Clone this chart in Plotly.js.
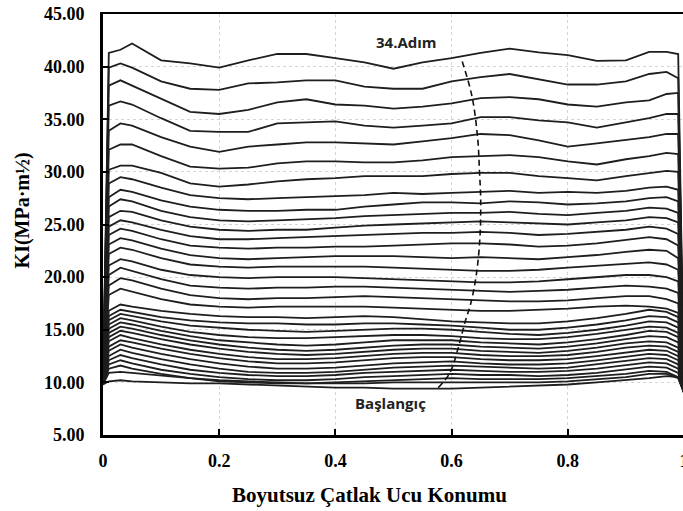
<!DOCTYPE html>
<html>
<head>
<meta charset="utf-8">
<script src="https://cdn.plot.ly/plotly-3.0.1.min.js"></script>
<style>
html,body{margin:0;padding:0;overflow:hidden;background:#fff;}
#chart{width:686px;height:511px;}
</style>
</head>
<body>
<div id="chart"></div>
<script>
// Crack-front position (dimensionless)
const xPos = [0, 0.01, 0.03, 0.05, 0.1, 0.15, 0.2, 0.25, 0.3, 0.35, 0.4, 0.45, 0.5, 0.55, 0.6, 0.65, 0.7, 0.75, 0.8, 0.85, 0.9, 0.94, 0.97, 0.99, 1];

// KI values per crack-growth step (top = 34th step, bottom = start)
const s34 = [9.8, 41.3, 41.6, 42.2, 40.6, 40.3, 39.9, 40.6, 41.2, 41.2, 40.8, 40.4, 39.8, 40.4, 40.8, 41.3, 41.7, 41.35, 41.1, 40.55, 40.6, 41.4, 41.4, 41.2, 9.0];
const s33 = [9.8, 39.9, 40.3, 39.9, 38.6, 37.9, 37.8, 38.4, 38.5, 38.7, 38.7, 38.1, 37.9, 37.9, 38.6, 39.0, 39.3, 38.8, 38.3, 38.3, 38.6, 39.3, 39.5, 38.9, 9.0];
const s32 = [9.8, 38.2, 38.7, 38.2, 37.0, 35.7, 35.5, 35.9, 36.6, 36.9, 36.4, 36.3, 36.0, 36.2, 36.5, 37.0, 37.1, 36.9, 36.4, 36.2, 36.6, 36.8, 37.4, 37.5, 9.0];
const s31 = [9.8, 36.3, 36.7, 36.4, 35.1, 33.9, 33.8, 33.8, 34.6, 34.7, 34.8, 34.4, 34.2, 34.4, 34.6, 35.2, 35.2, 34.9, 34.7, 34.2, 34.7, 35.1, 35.5, 35.5, 9.0];
const s30 = [9.8, 33.9, 34.6, 34.4, 33.3, 32.4, 31.9, 32.4, 32.6, 32.8, 32.8, 32.7, 32.6, 32.9, 33.2, 33.6, 33.5, 33.0, 32.4, 32.7, 33.0, 33.3, 33.6, 33.6, 9.0];
const s29 = [9.8, 32.1, 32.6, 32.6, 31.5, 30.5, 30.3, 30.4, 30.8, 31.0, 31.0, 30.9, 30.9, 31.1, 31.4, 31.5, 31.6, 31.4, 31.0, 30.7, 31.2, 31.5, 31.8, 31.7, 9.0];
const s28 = [9.8, 30.2, 30.6, 30.6, 29.9, 28.9, 28.6, 28.8, 29.1, 29.3, 29.4, 29.6, 29.6, 29.6, 29.8, 29.9, 29.9, 29.6, 29.4, 29.2, 29.6, 29.9, 30.1, 30.0, 9.0];
const s27 = [9.8, 28.9, 29.5, 29.3, 28.5, 27.8, 27.5, 27.4, 27.5, 27.6, 27.7, 27.8, 28.0, 27.9, 28.0, 28.1, 28.2, 28.0, 28.1, 28.0, 28.2, 28.5, 28.6, 28.3, 9.0];
const s26 = [9.8, 27.6, 28.3, 28.1, 27.3, 26.7, 26.4, 26.3, 26.3, 26.4, 26.4, 26.7, 26.9, 27.1, 27.1, 27.0, 27.2, 27.1, 26.9, 27.0, 27.2, 27.5, 27.6, 27.2, 9.0];
const s25 = [9.8, 26.7, 27.4, 27.2, 26.3, 25.7, 25.4, 25.3, 25.4, 25.5, 25.6, 25.8, 25.9, 26.0, 26.1, 26.1, 26.2, 26.0, 25.9, 26.1, 26.3, 26.6, 26.5, 26.1, 9.0];
const s24 = [9.8, 25.7, 26.3, 26.2, 25.4, 24.8, 24.5, 24.4, 24.5, 24.5, 24.7, 24.9, 25.0, 25.1, 25.2, 25.3, 25.2, 25.1, 25.0, 25.2, 25.4, 25.7, 25.6, 25.2, 9.0];
const s23 = [9.8, 24.8, 25.4, 25.2, 24.5, 23.9, 23.6, 23.6, 23.7, 23.8, 23.9, 24.0, 24.1, 24.2, 24.2, 24.3, 24.2, 24.0, 24.1, 24.3, 24.5, 24.8, 24.6, 24.1, 9.0];
const s22 = [9.8, 24.0, 24.6, 24.4, 23.6, 23.0, 22.8, 22.7, 22.8, 22.8, 22.9, 22.9, 23.0, 23.1, 23.2, 23.2, 23.1, 22.9, 23.0, 23.2, 23.5, 23.8, 23.6, 23.0, 9.0];
const s21 = [9.8, 23.1, 23.7, 23.5, 22.7, 22.1, 21.8, 21.7, 21.8, 21.9, 22.0, 22.0, 22.0, 21.9, 21.8, 21.9, 21.8, 21.7, 21.9, 22.1, 22.4, 22.6, 22.5, 21.8, 9.0];
const s20 = [9.8, 22.2, 22.8, 22.6, 21.8, 21.2, 21.0, 20.9, 21.0, 21.0, 21.0, 21.0, 20.9, 20.8, 20.7, 20.6, 20.6, 20.7, 20.9, 21.1, 21.3, 21.4, 21.2, 20.7, 9.0];
const s19 = [9.8, 21.1, 21.7, 21.5, 20.7, 20.2, 20.0, 19.9, 20.0, 20.0, 20.0, 19.9, 19.8, 19.7, 19.6, 19.5, 19.5, 19.6, 19.8, 20.0, 20.2, 20.2, 20.0, 19.6, 9.0];
const s18 = [9.8, 20.2, 20.9, 20.6, 19.8, 19.2, 19.0, 18.9, 19.0, 19.0, 19.1, 19.1, 19.0, 18.9, 18.8, 18.7, 18.6, 18.7, 18.8, 19.0, 19.2, 19.1, 18.9, 18.5, 9.0];
const s17 = [9.8, 19.2, 19.9, 19.7, 18.9, 18.3, 18.0, 17.9, 18.0, 18.0, 18.1, 18.2, 18.1, 18.0, 17.9, 17.8, 17.7, 17.7, 17.8, 18.0, 18.2, 18.2, 17.9, 17.5, 9.0];
const s16 = [9.8, 18.3, 18.9, 18.6, 17.9, 17.4, 17.2, 17.1, 17.2, 17.2, 17.2, 17.2, 17.1, 17.0, 16.9, 16.8, 16.8, 16.9, 17.0, 17.2, 17.3, 17.2, 17.0, 16.6, 9.0];
const s15 = [9.8, 16.8, 17.4, 17.2, 16.8, 16.5, 16.3, 16.2, 16.2, 16.1, 16.2, 16.3, 16.2, 16.0, 15.8, 15.7, 15.6, 15.6, 15.8, 16.1, 16.5, 16.9, 16.7, 16.2, 9.0];
const s14 = [9.8, 16.3, 16.9, 16.7, 16.2, 15.9, 15.7, 15.6, 15.6, 15.5, 15.5, 15.6, 15.6, 15.5, 15.4, 15.2, 15.0, 15.0, 15.2, 15.5, 15.9, 16.3, 16.2, 15.7, 9.0];
const s13 = [9.8, 15.9, 16.5, 16.3, 15.8, 15.4, 15.2, 15.0, 14.9, 14.8, 14.9, 15.0, 15.1, 15.1, 15.0, 14.8, 14.6, 14.5, 14.7, 15.0, 15.4, 15.8, 15.7, 15.2, 9.0];
const s12 = [9.8, 15.5, 16.1, 15.9, 15.3, 14.8, 14.5, 14.3, 14.2, 14.2, 14.3, 14.4, 14.5, 14.5, 14.4, 14.2, 14.1, 14.1, 14.3, 14.6, 15.0, 15.3, 15.2, 14.7, 9.0];
const s11 = [9.8, 15.1, 15.7, 15.5, 14.9, 14.4, 14.0, 13.8, 13.6, 13.5, 13.6, 13.8, 14.0, 14.0, 14.0, 13.8, 13.7, 13.6, 13.8, 14.1, 14.5, 14.9, 14.8, 14.3, 9.0];
const s10 = [9.8, 14.7, 15.3, 15.1, 14.5, 14.0, 13.6, 13.3, 13.1, 13.0, 13.1, 13.3, 13.5, 13.6, 13.6, 13.4, 13.3, 13.2, 13.4, 13.7, 14.1, 14.4, 14.3, 13.8, 9.0];
const s09 = [9.8, 14.3, 14.9, 14.7, 14.1, 13.6, 13.2, 12.9, 12.7, 12.6, 12.7, 12.9, 13.1, 13.2, 13.2, 13.0, 12.9, 12.8, 13.0, 13.3, 13.7, 13.9, 13.8, 13.3, 9.0];
const s08 = [9.8, 13.9, 14.5, 14.2, 13.6, 13.1, 12.7, 12.4, 12.2, 12.2, 12.3, 12.5, 12.7, 12.8, 12.8, 12.6, 12.5, 12.5, 12.6, 12.9, 13.3, 13.5, 13.4, 12.9, 9.0];
const s07 = [9.8, 13.4, 14.0, 13.8, 13.2, 12.7, 12.3, 12.0, 11.8, 11.8, 11.9, 12.1, 12.3, 12.4, 12.4, 12.2, 12.1, 12.1, 12.2, 12.5, 12.8, 13.1, 13.0, 12.5, 9.0];
const s06 = [9.8, 13.0, 13.6, 13.3, 12.7, 12.2, 11.8, 11.5, 11.3, 11.3, 11.4, 11.6, 11.8, 11.9, 12.0, 11.8, 11.7, 11.7, 11.8, 12.1, 12.4, 12.7, 12.6, 12.1, 9.0];
const s05 = [9.8, 12.5, 13.1, 12.8, 12.2, 11.7, 11.3, 11.0, 10.9, 10.9, 11.0, 11.2, 11.4, 11.5, 11.6, 11.5, 11.4, 11.3, 11.4, 11.7, 12.0, 12.3, 12.2, 11.7, 9.0];
const s04 = [9.8, 12.1, 12.6, 12.3, 11.7, 11.2, 10.9, 10.7, 10.6, 10.6, 10.7, 10.9, 11.0, 11.1, 11.2, 11.1, 11.0, 11.0, 11.1, 11.3, 11.6, 11.9, 11.8, 11.3, 9.0];
const s03 = [9.8, 11.7, 12.1, 11.8, 11.2, 10.8, 10.5, 10.3, 10.2, 10.2, 10.3, 10.5, 10.6, 10.7, 10.8, 10.7, 10.7, 10.6, 10.7, 10.9, 11.2, 11.5, 11.4, 10.9, 9.0];
const s02 = [9.8, 11.3, 11.6, 11.3, 10.8, 10.4, 10.1, 10.0, 9.9, 9.9, 10.0, 10.1, 10.2, 10.3, 10.4, 10.3, 10.3, 10.3, 10.4, 10.6, 10.8, 11.1, 11.0, 10.5, 9.0];
const s01 = [9.8, 10.9, 11.0, 10.9, 10.6, 10.4, 10.2, 10.1, 10.0, 9.9, 9.9, 9.9, 10.0, 10.0, 10.0, 10.0, 10.0, 10.0, 10.1, 10.3, 10.5, 10.8, 10.8, 10.4, 9.0];
const s00 = [9.8, 10.1, 10.2, 10.1, 10.0, 9.9, 9.9, 9.8, 9.7, 9.6, 9.5, 9.5, 9.4, 9.4, 9.4, 9.5, 9.6, 9.7, 9.8, 10.0, 10.2, 10.4, 10.6, 10.5, 9.0];

const steps = [s34, s33, s32, s31, s30, s29, s28, s27, s26, s25, s24, s23, s22, s21, s20, s19, s18, s17, s16, s15, s14, s13, s12, s11, s10, s09, s08, s07, s06, s05, s04, s03, s02, s01, s00];

// Dashed trace of the marked front point across the steps
const markX = [0.577, 0.597, 0.612, 0.623, 0.633, 0.643, 0.649, 0.650, 0.648, 0.645, 0.635, 0.617];
const markY = [9.5, 10.9, 13.4, 15.7, 17.5, 20.4, 24.0, 27.5, 30.0, 33.1, 37.2, 40.7];

const labelTop = '34.Adım';
const labelBottom = 'Başlangıç';
const xTitle = 'Boyutsuz Çatlak Ucu Konumu';
const yTitle = 'KI(MPa·m½)';

const traces = steps.map(function (vals) {
  return {x: xPos, y: vals, type: 'scatter', mode: 'lines',
          line: {color: '#1e1e1e', width: 1.8}, hoverinfo: 'skip'};
});
traces.push({x: markX, y: markY, type: 'scatter', mode: 'lines',
             line: {color: '#111111', width: 1.6, dash: '6px,4px', shape: 'spline'}, hoverinfo: 'skip'});

const tickSerif = {family: 'Liberation Serif, Times New Roman, serif', size: 18, color: '#000', weight: 'bold'};
const xTitleFont = {family: 'Liberation Serif, Times New Roman, serif', size: 21, color: '#000', weight: 'bold'};
const yTitleFont = {family: 'Liberation Serif, Times New Roman, serif', size: 20, color: '#000', weight: 'bold'};
const noteFont = {family: 'Open Sans, Noto Sans, sans-serif', size: 15, color: '#222', weight: 'bold'};

const layout = {
  width: 686, height: 511,
  margin: {l: 103, r: 2, t: 14, b: 76},
  paper_bgcolor: '#fff', plot_bgcolor: '#fff',
  showlegend: false,
  xaxis: {
    range: [0, 1], tick0: 0, dtick: 0.2,
    showgrid: true, gridcolor: '#d4d4d4', griddash: 'dot', gridwidth: 1,
    zeroline: false, showline: true, linecolor: '#000', linewidth: 2.5, mirror: true,
    ticks: 'inside', ticklen: 6, tickwidth: 2, tickcolor: '#000',
    tickfont: tickSerif, ticklabelstandoff: 8, ticklabeloverflow: 'allow'
  },
  yaxis: {
    range: [5, 45], tick0: 5, dtick: 5, tickformat: '.2f',
    showgrid: true, gridcolor: '#d4d4d4', griddash: 'dot', gridwidth: 1,
    zeroline: false, showline: true, linecolor: '#000', linewidth: 3,
    ticks: 'inside', ticklen: 6, tickwidth: 2, tickcolor: '#000',
    tickfont: tickSerif, ticklabelstandoff: 12
  },
  annotations: [
    {xref: 'paper', yref: 'paper', x: 0.458, y: -0.1425, xanchor: 'center', yanchor: 'middle',
     text: xTitle, showarrow: false, font: xTitleFont},
    {xref: 'paper', yref: 'paper', x: -0.139, y: 0.534, xanchor: 'center', yanchor: 'middle',
     textangle: -90, text: yTitle, showarrow: false, font: yTitleFont},
    {x: 0.523, y: 42.3, xref: 'x', yref: 'y', text: labelTop, showarrow: false, font: noteFont},
    {x: 0.494, y: 8.05, xref: 'x', yref: 'y', text: labelBottom, showarrow: false, font: noteFont}
  ]
};

Plotly.newPlot('chart', traces, layout, {displayModeBar: false, staticPlot: true});
</script>
</body>
</html>
